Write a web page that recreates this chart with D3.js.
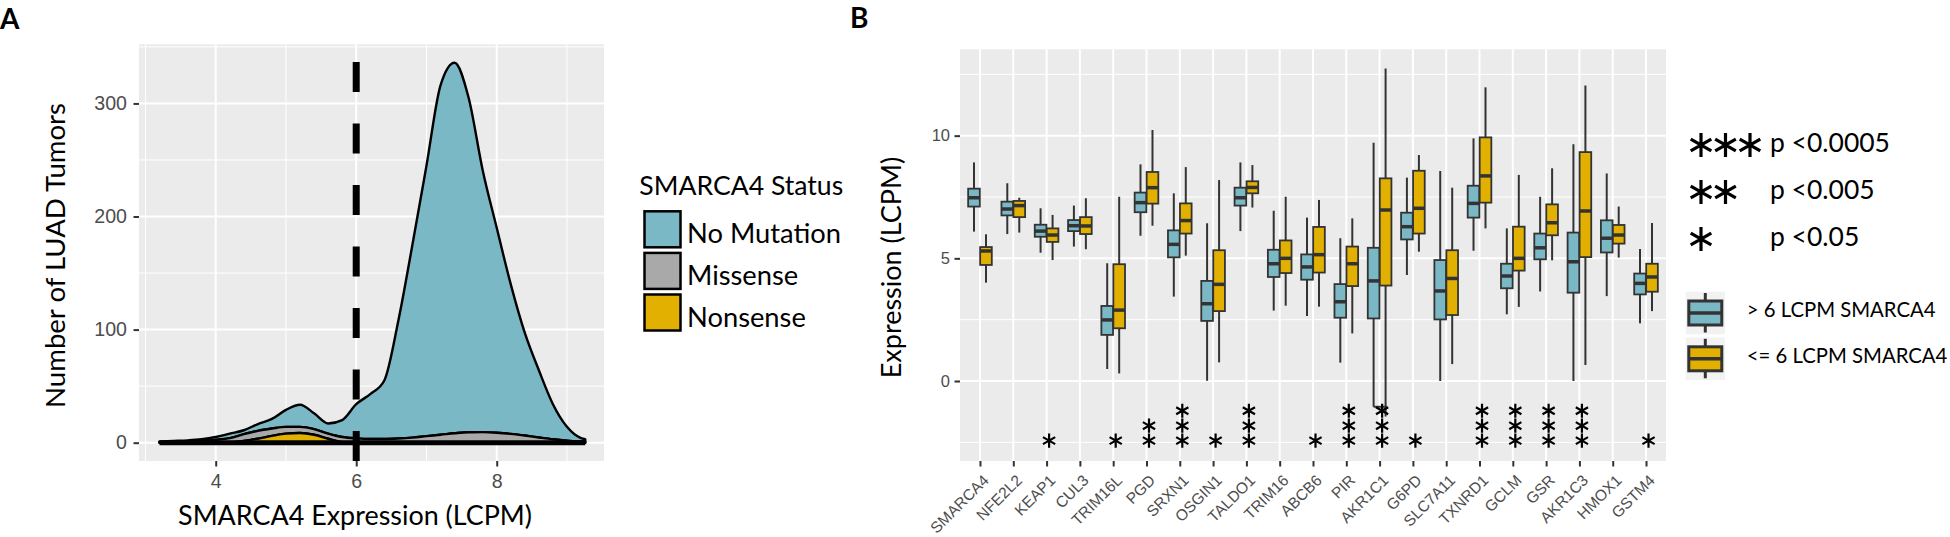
<!DOCTYPE html>
<html>
<head>
<meta charset="utf-8">
<script src="https://cdn.jsdelivr.net/npm/d3@7"></script>
<style>
  html, body { margin: 0; padding: 0; background: #ffffff; }
  svg { display: block; }
</style>
</head>
<body>
<svg id="chart" width="1950" height="537"></svg>
<script>
// ---------------- DATA ----------------
// Panel A: stacked density of SMARCA4 expression by mutation status
const densityX          = [3.2, 3.4, 3.6, 3.8, 4.0, 4.2, 4.4, 4.6, 4.8, 5.0, 5.2, 5.4, 5.6, 5.8, 6.0, 6.2, 6.4, 6.6, 6.8, 7.0, 7.2, 7.4, 7.6, 7.8, 8.0, 8.2, 8.4, 8.6, 8.8, 9.0, 9.2, 9.26];
const densityNoMutation = [0.5, 0.8, 1.0, 1.5, 2.5, 4.0, 3.5, 6.0, 8.5, 15.0, 19.5, 14.0, 9.0, 15.0, 30.2, 39.7, 51.7, 104.3, 170.5, 239.2, 309.0, 327.7, 295.8, 231.7, 181.2, 132.2, 90.7, 59.4, 31.0, 12.2, 3.0, 2.2];
const densityMissense   = [0.5, 0.7, 1.0, 1.5, 2.5, 3.7, 6.0, 7.0, 6.5, 6.0, 5.5, 5.0, 4.5, 4.5, 3.8, 3.3, 3.3, 3.7, 4.5, 5.8, 7.0, 8.3, 9.2, 9.3, 8.8, 7.8, 6.3, 4.6, 3.0, 1.8, 1.0, 0.8];
const densityNonsense   = [0, 0, 0, 0, 0, 0.3, 1.5, 3.5, 6.0, 8.0, 8.5, 7.0, 3.5, 0.5, 0, 0, 0, 0, 0, 0, 0, 0, 0, 0, 0, 0, 0, 0, 0, 0, 0, 0];
const statusKeys   = ["noMutation", "missense", "nonsense"];
const statusLabels = ["No Mutation", "Missense", "Nonsense"];
const statusTitle  = "SMARCA4 Status";
const cutoffLCPM   = 6;
const ticksAx = [4, 6, 8];
const ticksAy = [0, 100, 200, 300];

// Panel B: boxplots [lower whisker, Q1, median, Q3, upper whisker]
const genes = ["SMARCA4","NFE2L2","KEAP1","CUL3","TRIM16L","PGD","SRXN1","OSGIN1","TALDO1","TRIM16","ABCB6","PIR","AKR1C1","G6PD","SLC7A11","TXNRD1","GCLM","GSR","AKR1C3","HMOX1","GSTM4"];
const highStats = [
  [6.09, 7.11, 7.47, 7.84, 8.91],
  [5.99, 6.75, 7.01, 7.31, 8.06],
  [5.23, 5.88, 6.11, 6.37, 7.04],
  [5.48, 6.11, 6.33, 6.56, 7.15],
  [0.49, 1.88, 2.49, 3.06, 4.80],
  [5.92, 6.88, 7.27, 7.68, 8.83],
  [3.44, 5.04, 5.57, 6.14, 7.65],
  [0.01, 2.45, 3.15, 4.08, 6.43],
  [6.11, 7.15, 7.47, 7.88, 8.91],
  [2.87, 4.24, 4.78, 5.35, 6.94],
  [2.65, 4.13, 4.65, 5.16, 6.66],
  [0.75, 2.58, 3.23, 3.95, 5.82],
  [-1.05, 2.55, 4.08, 5.43, 9.71],
  [4.32, 5.77, 6.29, 6.86, 8.29],
  [0.00, 2.51, 3.67, 4.93, 8.56],
  [5.31, 6.66, 7.24, 7.96, 9.89],
  [2.72, 3.78, 4.28, 4.78, 6.22],
  [3.65, 4.96, 5.43, 6.01, 7.51],
  [0.00, 3.60, 4.86, 6.05, 9.65],
  [3.46, 5.24, 5.82, 6.55, 8.46],
  [2.35, 3.53, 3.98, 4.38, 5.38]
];
const lowStats = [
  [4.01, 4.73, 5.30, 5.46, 5.98],
  [6.05, 6.68, 7.15, 7.34, 7.47],
  [4.93, 5.67, 5.95, 6.22, 6.77],
  [5.37, 5.99, 6.32, 6.68, 7.45],
  [0.31, 2.15, 2.89, 4.76, 7.51],
  [6.33, 7.23, 7.88, 8.52, 10.23],
  [5.11, 6.01, 6.54, 7.24, 8.72],
  [0.76, 2.85, 3.94, 5.33, 8.19],
  [7.07, 7.65, 7.89, 8.14, 8.80],
  [3.07, 4.40, 5.00, 5.73, 7.51],
  [3.03, 4.42, 5.15, 6.28, 7.38],
  [1.94, 3.87, 4.78, 5.48, 6.63],
  [-1.45, 3.89, 6.97, 8.26, 12.74],
  [5.27, 6.01, 7.04, 8.57, 9.21],
  [0.69, 2.69, 4.18, 5.33, 7.88],
  [6.22, 7.27, 8.36, 9.93, 11.97],
  [3.02, 4.50, 5.00, 6.29, 8.40],
  [4.92, 5.94, 6.45, 7.20, 8.67],
  [0.65, 5.05, 6.93, 9.33, 12.04],
  [5.03, 5.60, 5.95, 6.36, 7.11],
  [2.85, 3.64, 4.24, 4.78, 6.44]
];
const starCounts = [0,0,1,0,1,2,3,1,3,0,1,3,3,1,0,3,3,3,3,0,1];
const starRows   = [-2.43, -1.82, -1.21];
const bracketGenes = ["AKR1C1"];
const groupLabels = ["> 6 LCPM SMARCA4", "<= 6 LCPM SMARCA4"];
const pStars  = [3, 2, 1];
const pLabels = ["p <0.0005", "p <0.005", "p <0.05"];
const ticksBy = [0, 5, 10];

// ---------------- STYLE ----------------
const C = {
  panel: "#EBEBEB", grid: "#FFFFFF", tick: "#333333", tickText: "#4D4D4D",
  blue: "#7AB8C6", gray: "#A9A9A9", gold: "#E2B000", box: "#333333", keyBg: "#F2F2F2"
};
const statusColors = [C.blue, C.gray, C.gold];
const TITLE_FONT = "Lato, 'Open Sans', sans-serif";
const TICK_FONT = "'Liberation Sans', Arial, sans-serif";

const svg = d3.select("#chart");

function fitWidth(sel, target) {
  const w = sel.node().getComputedTextLength();
  const fs = parseFloat(sel.attr("font-size"));
  sel.attr("font-size", fs * target / w);
  return fs * target / w;
}
function minorBreaks(ticks, domain) {
  const step = ticks[1] - ticks[0];
  const out = [];
  for (let v = ticks[0] - step / 2; v <= domain[1]; v += step) {
    if (v >= domain[0]) out.push(v);
  }
  return out;
}

// ================= PANEL A =================
const A = { left: 139, right: 604, top: 44.3, bottom: 461 };
const xA = d3.scaleLinear().domain([2.908, 9.527]).range([A.left, A.right]);
const yA = d3.scaleLinear().domain([-16.2, 352.3]).range([A.bottom, A.top]);

const gA = svg.append("g");
gA.append("rect").attr("x", A.left).attr("y", A.top)
  .attr("width", A.right - A.left).attr("height", A.bottom - A.top).attr("fill", C.panel);

minorBreaks(ticksAx, xA.domain()).forEach(v => gA.append("line")
  .attr("x1", xA(v)).attr("x2", xA(v)).attr("y1", A.top).attr("y2", A.bottom)
  .attr("stroke", C.grid).attr("stroke-width", 1));
minorBreaks(ticksAy, yA.domain()).forEach(v => gA.append("line")
  .attr("y1", yA(v)).attr("y2", yA(v)).attr("x1", A.left).attr("x2", A.right)
  .attr("stroke", C.grid).attr("stroke-width", 1));
ticksAx.forEach(v => gA.append("line")
  .attr("x1", xA(v)).attr("x2", xA(v)).attr("y1", A.top).attr("y2", A.bottom)
  .attr("stroke", C.grid).attr("stroke-width", 2));
ticksAy.forEach(v => gA.append("line")
  .attr("y1", yA(v)).attr("y2", yA(v)).attr("x1", A.left).attr("x2", A.right)
  .attr("stroke", C.grid).attr("stroke-width", 2));

// stacked densities
const rowsA = densityX.map((x, i) => ({
  x, noMutation: densityNoMutation[i], missense: densityMissense[i], nonsense: densityNonsense[i]
}));
const stackA = d3.stack().keys(["nonsense", "missense", "noMutation"])(rowsA);
const areaA = d3.area()
  .x(d => xA(d.data.x)).y0(d => yA(d[0])).y1(d => yA(d[1]))
  .curve(d3.curveMonotoneX);
const layerOrder = ["noMutation", "missense", "nonsense"];
layerOrder.forEach(key => {
  const layer = stackA.find(s => s.key === key);
  gA.append("path").attr("d", areaA(layer))
    .attr("fill", statusColors[statusKeys.indexOf(key)])
    .attr("stroke", "#000").attr("stroke-width", 2.4).attr("stroke-linejoin", "round");
});
// thick baseline of the stacked densities
gA.append("line")
  .attr("x1", xA(d3.min(densityX))).attr("x2", xA(d3.max(densityX)))
  .attr("y1", yA(0)).attr("y2", yA(0))
  .attr("stroke", "#000").attr("stroke-width", 5);

// cutoff dashed line (drawn from bottom up)
gA.append("line")
  .attr("x1", xA(cutoffLCPM)).attr("x2", xA(cutoffLCPM))
  .attr("y1", A.bottom).attr("y2", A.top)
  .attr("stroke", "#000").attr("stroke-width", 7).attr("stroke-dasharray", "30,31.5");

// axes
const axAy = gA.append("g").attr("transform", `translate(${A.left},0)`)
  .call(d3.axisLeft(yA).tickValues(ticksAy).tickFormat(d3.format("d")).tickSize(5.5).tickPadding(6.5));
const axAx = gA.append("g").attr("transform", `translate(0,${A.bottom})`)
  .call(d3.axisBottom(xA).tickValues(ticksAx).tickFormat(d3.format("d")).tickSize(5.5).tickPadding(8));
[axAy, axAx].forEach(ax => {
  ax.select(".domain").remove();
  ax.selectAll(".tick line").attr("stroke", C.tick).attr("stroke-width", 2);
  ax.selectAll(".tick text").attr("fill", C.tickText)
    .attr("font-family", TICK_FONT).attr("font-size", 19.6);
});

// titles
const xTitleA = svg.append("text").text("SMARCA4 Expression (LCPM)")
  .attr("x", 355).attr("y", 525).attr("text-anchor", "middle")
  .attr("font-family", TITLE_FONT).attr("font-size", 28).attr("fill", "#000");
fitWidth(xTitleA, 354);
const yTitleA = svg.append("text").text("Number of LUAD Tumors")
  .attr("transform", "translate(65,255.5) rotate(-90)").attr("text-anchor", "middle")
  .attr("font-family", TITLE_FONT).attr("font-size", 28).attr("fill", "#000");
fitWidth(yTitleA, 305);

svg.append("text").text("A").attr("x", 0).attr("y", 29)
  .attr("font-family", TITLE_FONT).attr("font-weight", 700).attr("font-size", 28).attr("fill", "#000");

// legend A
const legA = svg.append("g");
const legTitle = legA.append("text").text(statusTitle)
  .attr("x", 639.3).attr("y", 195)
  .attr("font-family", TITLE_FONT).attr("font-size", 28).attr("fill", "#000");
fitWidth(legTitle, 204);
let legFont = null;
statusLabels.forEach((lab, i) => {
  const y0 = 211.3 + i * 41.6;
  legA.append("rect").attr("x", 644.5).attr("y", y0).attr("width", 36).attr("height", 36)
    .attr("fill", statusColors[i]).attr("stroke", "#000").attr("stroke-width", 2.5);
  const t = legA.append("text").text(lab)
    .attr("x", 687).attr("y", y0 + 32)
    .attr("font-family", TITLE_FONT).attr("font-size", legFont || 28).attr("fill", "#000");
  if (i === 0) legFont = fitWidth(t, 154);
});

// ================= PANEL B =================
const B = { left: 960, right: 1666, top: 49.3, bottom: 461 };
const xB = d3.scalePoint().domain(genes).range([B.left, B.right]).padding(0.6);
const yB = d3.scaleLinear().domain([-3.26, 13.52]).range([B.bottom, B.top]);
const step = xB.step();

const gB = svg.append("g");
gB.append("rect").attr("x", B.left).attr("y", B.top)
  .attr("width", B.right - B.left).attr("height", B.bottom - B.top).attr("fill", C.panel);
minorBreaks(ticksBy, yB.domain()).forEach(v => gB.append("line")
  .attr("y1", yB(v)).attr("y2", yB(v)).attr("x1", B.left).attr("x2", B.right)
  .attr("stroke", C.grid).attr("stroke-width", 1));
ticksBy.forEach(v => gB.append("line")
  .attr("y1", yB(v)).attr("y2", yB(v)).attr("x1", B.left).attr("x2", B.right)
  .attr("stroke", C.grid).attr("stroke-width", 2));
genes.forEach(g => gB.append("line")
  .attr("x1", xB(g)).attr("x2", xB(g)).attr("y1", B.top).attr("y2", B.bottom)
  .attr("stroke", C.grid).attr("stroke-width", 2));

// boxes
const boxW = 0.35 * step, off = 0.18 * step;
function drawBox(g, cx, s, fill) {
  g.append("line").attr("x1", cx).attr("x2", cx).attr("y1", yB(s[0])).attr("y2", yB(s[4]))
    .attr("stroke", C.box).attr("stroke-width", 2);
  g.append("rect").attr("x", cx - boxW / 2).attr("y", yB(s[3]))
    .attr("width", boxW).attr("height", yB(s[1]) - yB(s[3]))
    .attr("fill", fill).attr("stroke", C.box).attr("stroke-width", 1.8);
  g.append("line").attr("x1", cx - boxW / 2).attr("x2", cx + boxW / 2)
    .attr("y1", yB(s[2])).attr("y2", yB(s[2]))
    .attr("stroke", C.box).attr("stroke-width", 3.5);
}
genes.forEach((gene, i) => {
  const cx = xB(gene);
  drawBox(gB, cx - off, highStats[i], C.blue);
  drawBox(gB, cx + off, lowStats[i], C.gold);
  if (bracketGenes.includes(gene)) {
    gB.append("line").attr("x1", cx - off).attr("x2", cx + off + 1.5)
      .attr("y1", yB(highStats[i][0])).attr("y2", yB(highStats[i][0]))
      .attr("stroke", C.box).attr("stroke-width", 2);
  }
});

// significance stars
const starSmall = d3.symbol().type(d3.symbolAsterisk).size(140);
genes.forEach((gene, i) => {
  for (let k = 0; k < starCounts[i]; k++) {
    gB.append("path").attr("d", starSmall())
      .attr("transform", `translate(${xB(gene) + 2.5},${yB(starRows[k])})`)
      .attr("fill", "none").attr("stroke", "#000").attr("stroke-width", 2.2);
  }
});

// axes B
const axBy = gB.append("g").attr("transform", `translate(${B.left},0)`)
  .call(d3.axisLeft(yB).tickValues(ticksBy).tickSize(5.5).tickPadding(4.5));
const axBx = gB.append("g").attr("transform", `translate(0,${B.bottom})`)
  .call(d3.axisBottom(xB).tickSize(5.5));
[axBy, axBx].forEach(ax => {
  ax.select(".domain").remove();
  ax.selectAll(".tick line").attr("stroke", C.tick).attr("stroke-width", 2);
  ax.selectAll(".tick text").attr("fill", C.tickText)
    .attr("font-family", TICK_FONT).attr("font-size", 16.5);
});
axBx.selectAll(".tick text")
  .attr("y", 0).attr("dy", "0.71em").attr("text-anchor", "end")
  .attr("font-size", 15.5)
  .attr("transform", "translate(1.5,12.5) rotate(-45)");

const yTitleB = svg.append("text").text("Expression (LCPM)")
  .attr("transform", "translate(901,267.5) rotate(-90)").attr("text-anchor", "middle")
  .attr("font-family", TITLE_FONT).attr("font-size", 28).attr("fill", "#000");
fitWidth(yTitleB, 221.6);

svg.append("text").text("B").attr("x", 850).attr("y", 28)
  .attr("font-family", TITLE_FONT).attr("font-weight", 700).attr("font-size", 28).attr("fill", "#000");

// p-value legend
const starBig = d3.symbol().type(d3.symbolAsterisk).size(400);
let pFont = null;
pLabels.forEach((lab, i) => {
  const cy = 145 + i * 47;
  for (let k = 0; k < pStars[i]; k++) {
    svg.append("path").attr("d", starBig())
      .attr("transform", `translate(${1701 + k * 24.5},${cy})`)
      .attr("fill", "none").attr("stroke", "#000").attr("stroke-width", 3.2);
  }
  const t = svg.append("text").text(lab).attr("x", 1770).attr("y", cy + 7)
    .attr("font-family", TITLE_FONT).attr("font-size", pFont || 28).attr("fill", "#000");
  if (i === 0) pFont = fitWidth(t, 120);
});

// group legend
let gFont = null;
groupLabels.forEach((lab, i) => {
  const cy = 313 + i * 45.8;
  const kx = 1705.3;
  svg.append("rect").attr("x", 1685.7).attr("y", cy - 21.3).attr("width", 39.3).attr("height", 42.6)
    .attr("fill", C.keyBg);
  svg.append("line").attr("x1", kx).attr("x2", kx).attr("y1", cy - 20).attr("y2", cy + 19.5)
    .attr("stroke", C.box).attr("stroke-width", 3);
  svg.append("rect").attr("x", kx - 16.5).attr("y", cy - 12).attr("width", 33).attr("height", 24)
    .attr("fill", i === 0 ? C.blue : C.gold).attr("stroke", C.box).attr("stroke-width", 3);
  svg.append("line").attr("x1", kx - 16.5).attr("x2", kx + 16.5).attr("y1", cy).attr("y2", cy)
    .attr("stroke", C.box).attr("stroke-width", 3.5);
  const t = svg.append("text").text(lab).attr("x", 1746.7).attr("y", cy + 4)
    .attr("font-family", TITLE_FONT).attr("font-size", gFont || 24).attr("fill", "#000");
  if (i === 0) gFont = fitWidth(t, 189);
});
</script>
</body>
</html>
